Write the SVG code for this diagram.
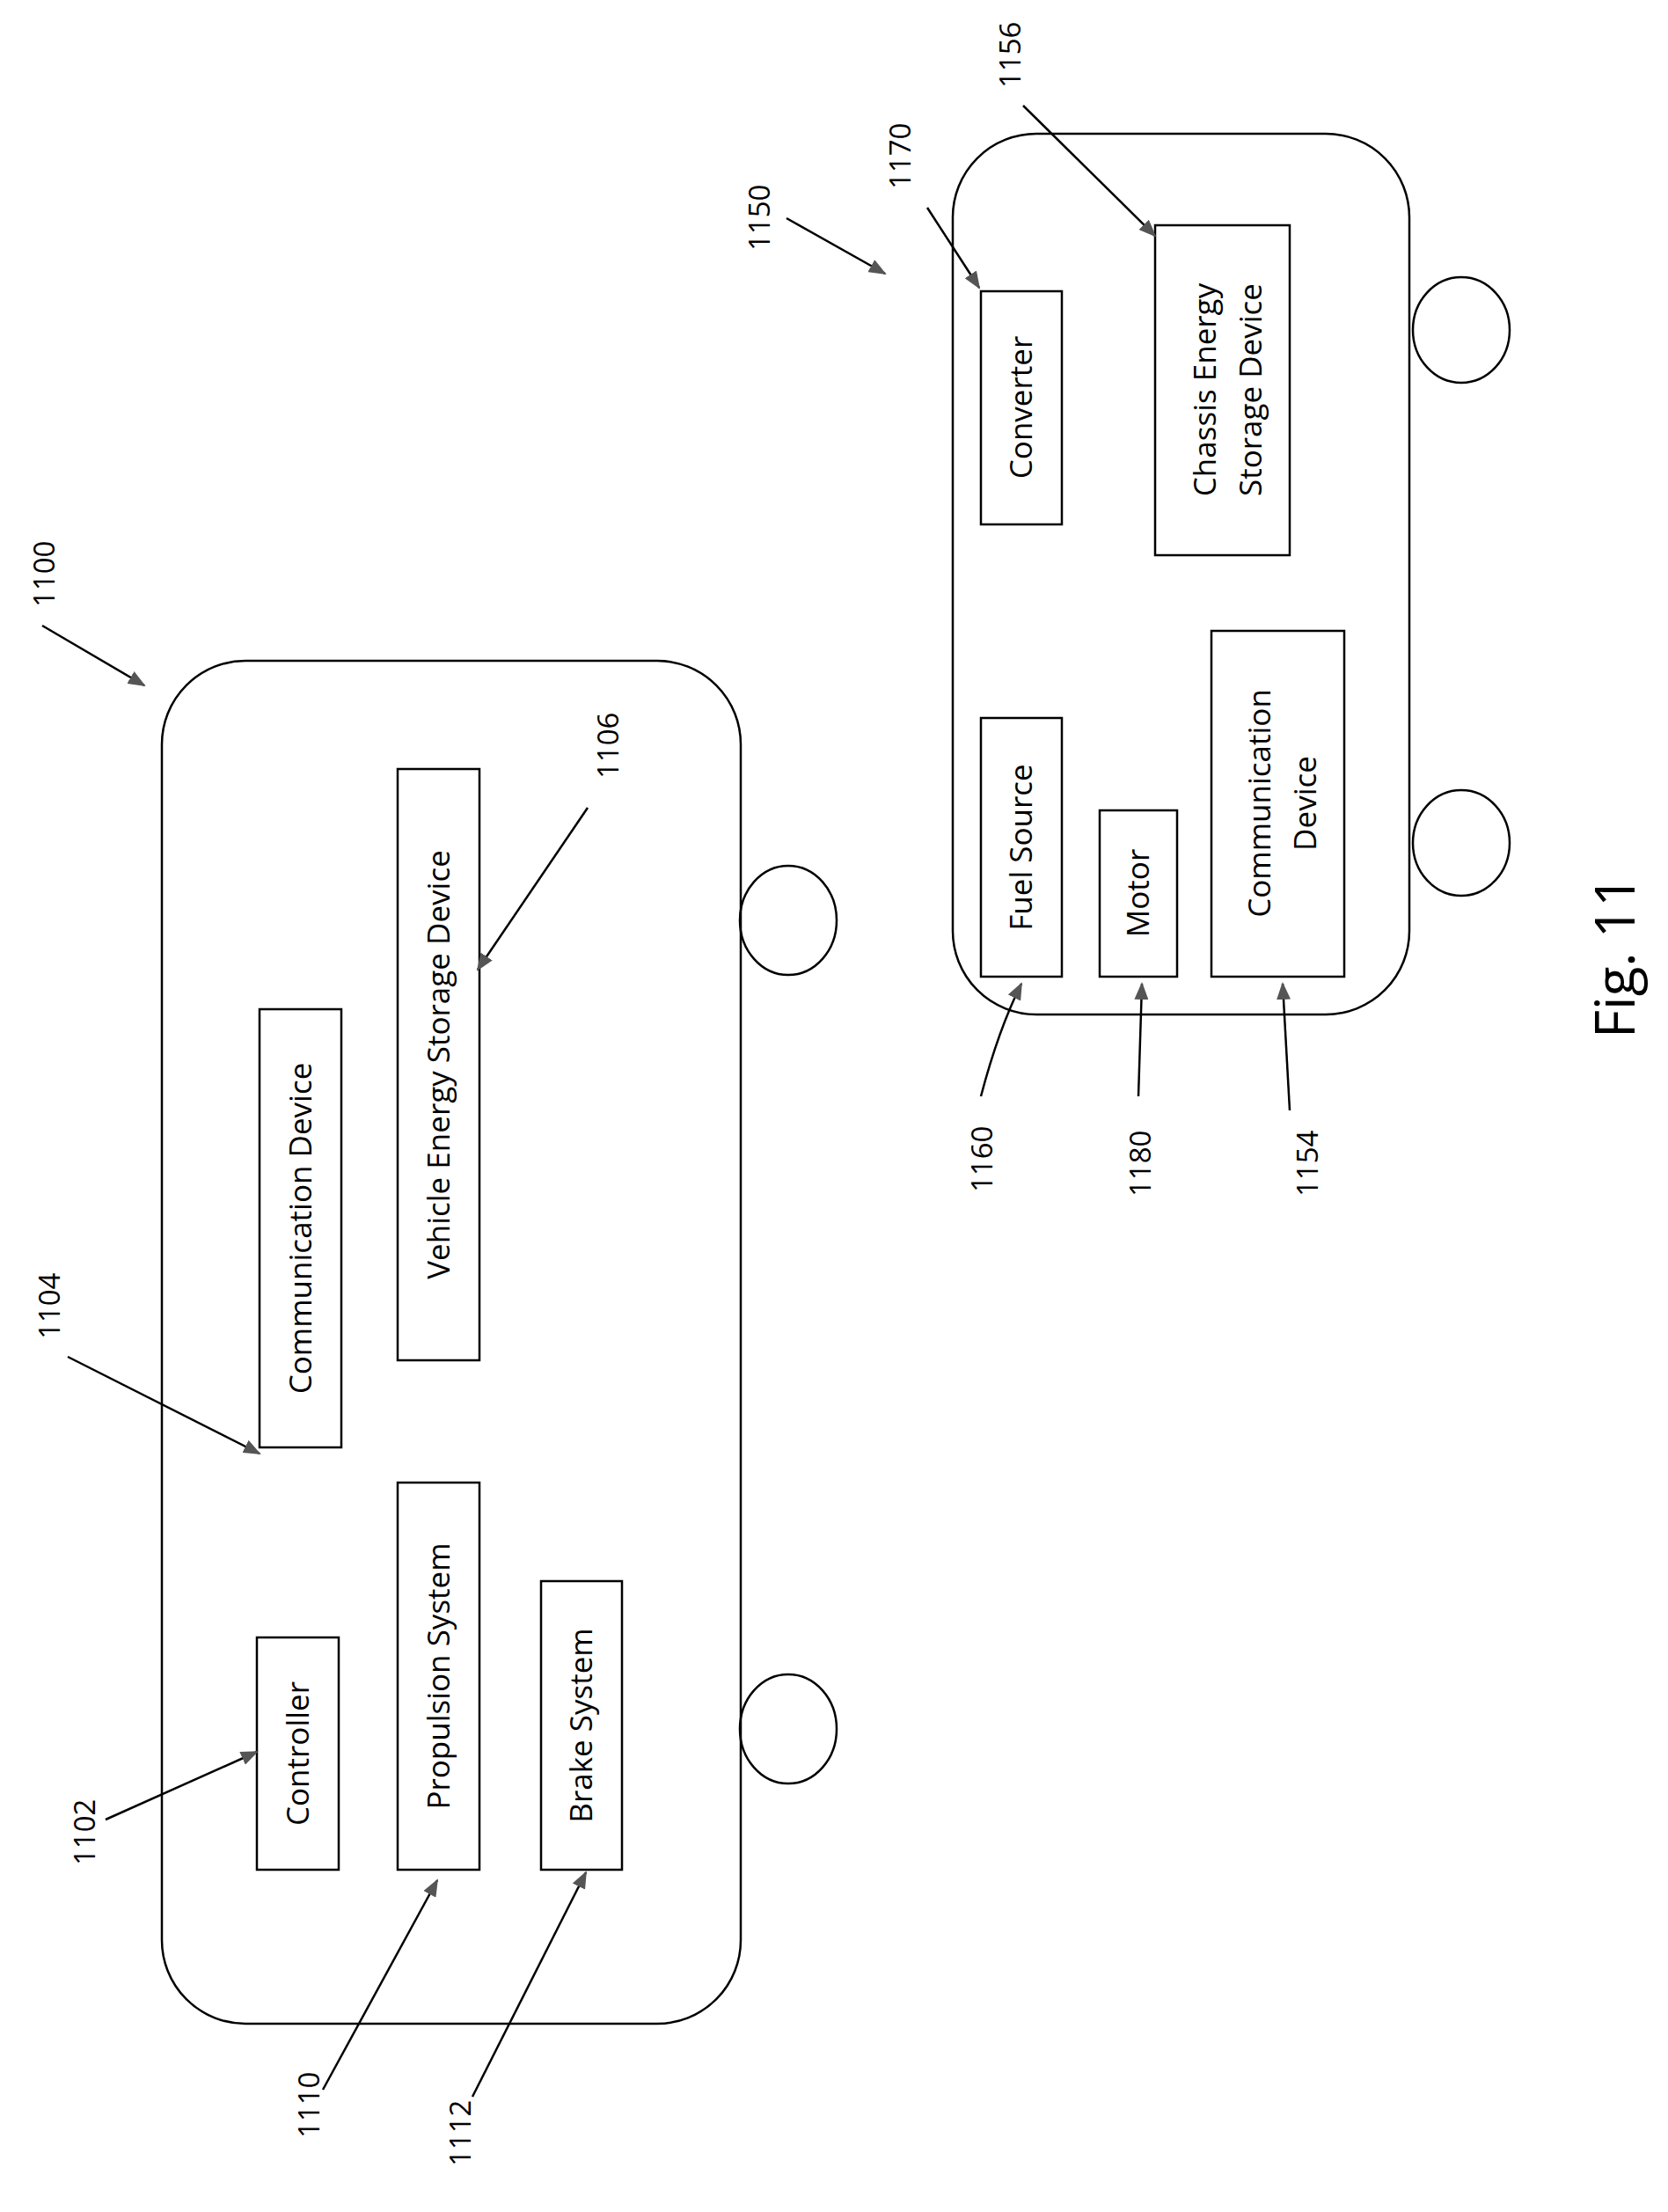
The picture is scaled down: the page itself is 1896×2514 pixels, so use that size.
<svg xmlns="http://www.w3.org/2000/svg" width="1896" height="2514" viewBox="0 0 1896 2514">
<style>
.b{fill:none;stroke:#000;stroke-width:2.5}
.t{font-family:"Open Sans","Liberation Sans",sans-serif;font-size:35px;fill:#000}
.l{font-family:"Open Sans","Liberation Sans",sans-serif;font-size:33px;fill:#000}
.c{fill:none;stroke:#000;stroke-width:2.5}
</style>
<defs><marker id="a" markerWidth="20" markerHeight="16" refX="18" refY="8" orient="auto" markerUnits="userSpaceOnUse"><path d="M0,0 L20,8 L0,16 Z" fill="#555"/></marker></defs>
<rect width="1896" height="2514" fill="#fff"/>
<g id="vehicle1100"><rect class="b" x="184" y="751" width="658" height="1549" rx="95"/>
<ellipse class="b" cx="896" cy="1046" rx="55" ry="62"/><ellipse class="b" cx="896" cy="1965" rx="55" ry="62"/></g>
<g id="n1102"><rect class="b" x="292" y="1861" width="93" height="264"/><text class="t" transform="translate(351,1993) rotate(-90)" text-anchor="middle">Controller</text></g>
<g id="n1110"><rect class="b" x="452" y="1685" width="93" height="440"/><text class="t" transform="translate(511,1905) rotate(-90)" text-anchor="middle">Propulsion System</text></g>
<g id="n1112"><rect class="b" x="615" y="1797" width="92" height="328"/><text class="t" transform="translate(673,1961) rotate(-90)" text-anchor="middle">Brake System</text></g>
<g id="n1104"><rect class="b" x="295" y="1147" width="93" height="498"/><text class="t" transform="translate(354,1396) rotate(-90)" text-anchor="middle">Communication Device</text></g>
<g id="n1106"><rect class="b" x="452" y="874" width="93" height="672"/><text class="t" transform="translate(511,1210) rotate(-90)" text-anchor="middle">Vehicle Energy Storage Device</text></g>
<g id="vehicle1150"><rect class="b" x="1083" y="152" width="519" height="1001" rx="95"/>
<ellipse class="b" cx="1661" cy="375" rx="55" ry="60"/><ellipse class="b" cx="1661" cy="958" rx="55" ry="60"/></g>
<g id="n1170"><rect class="b" x="1115" y="331" width="92" height="265"/><text class="t" transform="translate(1173,463) rotate(-90)" text-anchor="middle">Converter</text></g>
<g id="n1156"><rect class="b" x="1313" y="256" width="153" height="375"/><text class="t" transform="translate(1382,443) rotate(-90)" text-anchor="middle">Chassis Energy</text><text class="t" transform="translate(1434,443) rotate(-90)" text-anchor="middle">Storage Device</text></g>
<g id="n1160"><rect class="b" x="1115" y="816" width="92" height="294"/><text class="t" transform="translate(1173,963) rotate(-90)" text-anchor="middle">Fuel Source</text></g>
<g id="n1180"><rect class="b" x="1250" y="921" width="88" height="189"/><text class="t" transform="translate(1306,1015) rotate(-90)" text-anchor="middle">Motor</text></g>
<g id="n1154"><rect class="b" x="1377" y="717" width="151" height="393"/><text class="t" transform="translate(1444,913) rotate(-90)" text-anchor="middle">Communication</text><text class="t" transform="translate(1496,913) rotate(-90)" text-anchor="middle">Device</text></g>
<g id="labels">
<text class="l" transform="translate(62,690) rotate(-90)">1100</text>
<text class="l" transform="translate(108,2120) rotate(-90)">1102</text>
<text class="l" transform="translate(68,1522) rotate(-90)">1104</text>
<text class="l" transform="translate(703,885) rotate(-90)">1106</text>
<text class="l" transform="translate(363,2430) rotate(-90)">1110</text>
<text class="l" transform="translate(535,2462) rotate(-90)">1112</text>
<text class="l" transform="translate(875,285) rotate(-90)">1150</text>
<text class="l" transform="translate(1035,215) rotate(-90)">1170</text>
<text class="l" transform="translate(1160,100) rotate(-90)">1156</text>
<text class="l" transform="translate(1128,1355) rotate(-90)">1160</text>
<text class="l" transform="translate(1308,1360) rotate(-90)">1180</text>
<text class="l" transform="translate(1498,1360) rotate(-90)">1154</text>
<text transform="translate(1858,1180) rotate(-90)" font-family="Open Sans,Liberation Sans,sans-serif" font-size="62">Fig. 11</text>
</g>
<g id="connectors">
<path class="c" marker-end="url(#a)" d="M48,711 L164,779"/>
<path class="c" marker-end="url(#a)" d="M120,2068 L292,1991"/>
<path class="c" marker-end="url(#a)" d="M77,1542 L295,1652"/>
<path class="c" marker-end="url(#a)" d="M668,918 L543,1102"/>
<path class="c" marker-end="url(#a)" d="M367,2375 L497,2137"/>
<path class="c" marker-end="url(#a)" d="M537,2383 L666,2128"/>
<path class="c" marker-end="url(#a)" d="M894,248 L1006,311"/>
<path class="c" marker-end="url(#a)" d="M1054,236 L1113,327"/>
<path class="c" marker-end="url(#a)" d="M1163,120 L1313,268"/>
<path class="c" marker-end="url(#a)" d="M1115,1246 Q1135,1170 1161,1118"/>
<path class="c" marker-end="url(#a)" d="M1294,1246 L1298,1118"/>
<path class="c" marker-end="url(#a)" d="M1466,1262 L1458,1118"/>
</g>
</svg>
